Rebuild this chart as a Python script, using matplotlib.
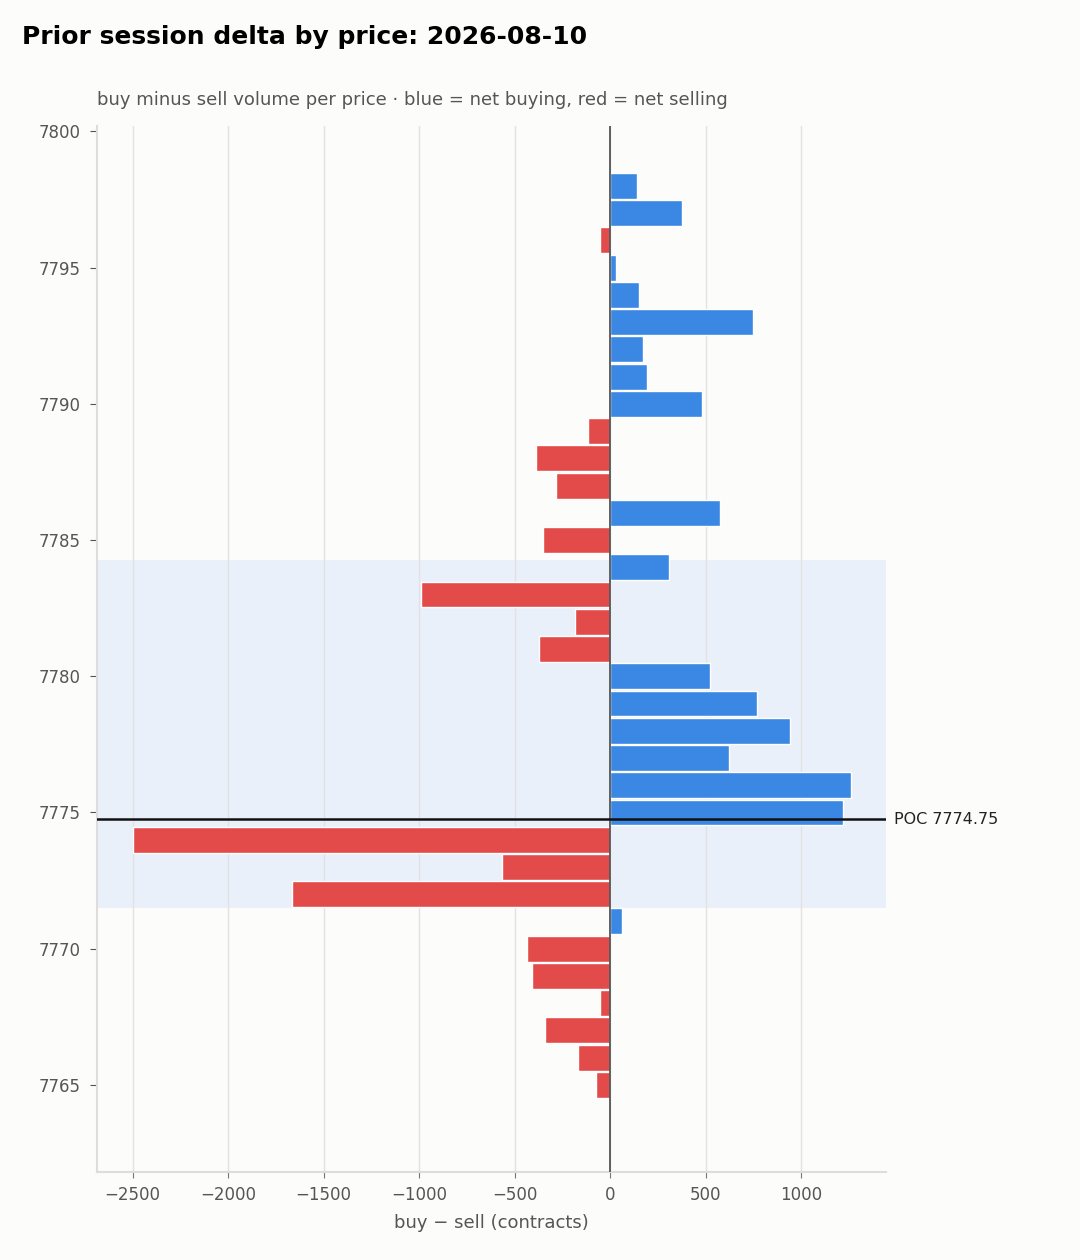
import numpy as np
import matplotlib
matplotlib.use("Agg")
import matplotlib.pyplot as plt

plt.rcParams["font.family"] = ["DejaVu Sans"]

prices = np.arange(7798, 7764, -1)
delta = [141, 377, -52, 31, 152, 749, 173, 194, 482, -115,
         -387, -283, 576, -351, 309, -990, -183, -372, 524, 770,
         942, 623, 1262, 1220, -2497, -565, -1665, 63, -435, -408,
         -52, -340, -168, -73]
poc = 7774.75
va_low, va_high = 7771.5, 7784.25

BG = "#fcfcfa"
BLUE = "#3a88e3"
RED = "#e24b4a"

fig = plt.figure(figsize=(10.8, 12.6), dpi=100, facecolor=BG)
ax = fig.add_axes([0.0898, 0.0698, 0.7306, 0.8302], facecolor=BG)

colors = [BLUE if d > 0 else RED for d in delta]
ax.axhspan(va_low, va_high, color="#d9e6fb", alpha=0.5, lw=0, zorder=0)
ax.barh(prices, delta, height=0.95, color=colors, edgecolor="white", linewidth=1, zorder=2)
ax.axvline(0, color="#555555", lw=1.3, zorder=3)
ax.axhline(poc, color="#111111", lw=1.8, zorder=4)
ax.text(1.01, poc, f"POC {poc}", transform=ax.get_yaxis_transform(),
        va="center", ha="left", fontsize=11.5, color="#222222")

ax.set_xlim(-2686, 1445)
ax.set_ylim(7761.8, 7800.2)
ax.set_yticks(np.arange(7765, 7801, 5))
ax.set_xticks(np.arange(-2500, 1001, 500))
ax.grid(axis="x", color="#e2e2e2", lw=1)
ax.set_axisbelow(True)
for s in ["top", "right"]:
    ax.spines[s].set_visible(False)
for s in ["left", "bottom"]:
    ax.spines[s].set_color("#dddddd")
    ax.spines[s].set_linewidth(1.5)
ax.tick_params(axis="x", length=4, color="#777777", labelsize=12, labelcolor="#555555", pad=6)
ax.tick_params(axis="y", length=5, color="#555555", labelsize=12, labelcolor="#555555", pad=7)
ax.set_xlabel("buy \u2212 sell (contracts)", fontsize=13, color="#555555", labelpad=7)

fig.text(0.0204, 0.971, "Prior session delta by price: 2026-08-10",
         fontsize=18, fontweight="bold", va="center", ha="left")
fig.text(0.0898, 0.921, "buy minus sell volume per price \u00b7 blue = net buying, red = net selling",
         fontsize=13, color="#555555", va="center", ha="left")

fig.savefig("out.png", dpi=100, facecolor=BG)
